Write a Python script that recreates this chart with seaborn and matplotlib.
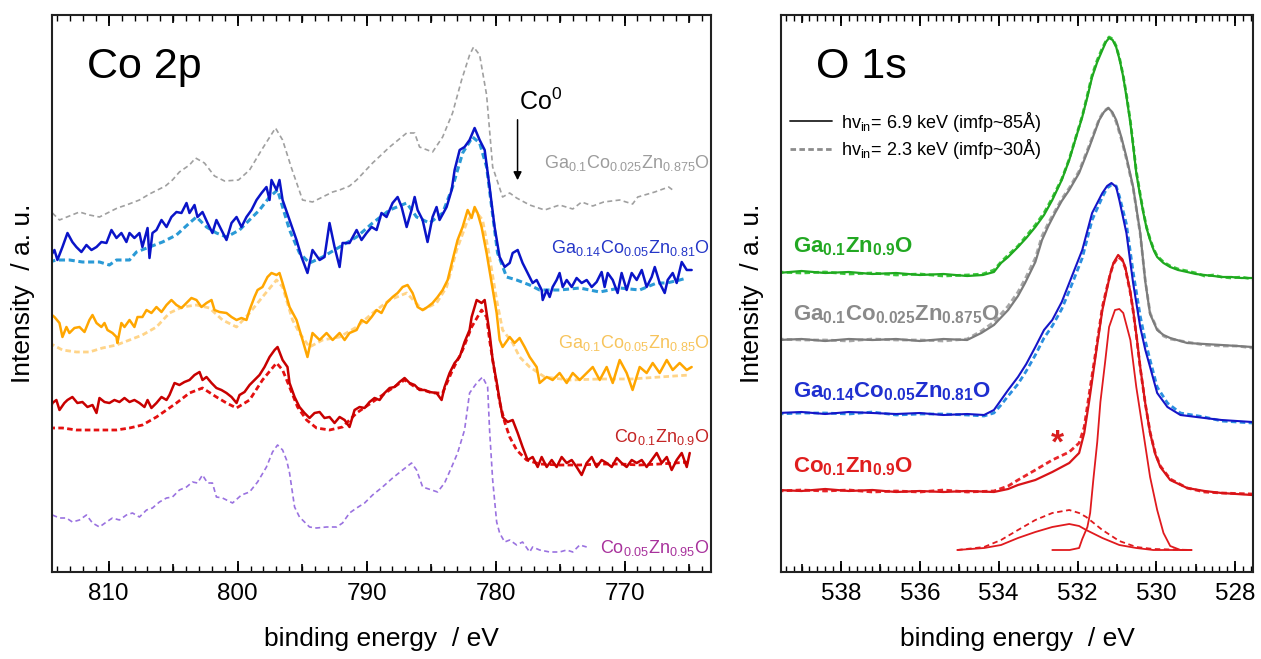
import numpy as np
import pandas as pd
import seaborn as sns
import matplotlib.pyplot as plt
from matplotlib.lines import Line2D
from matplotlib.ticker import MultipleLocator

# ---------------- Co 2p panel (binding energy in eV, intensity in a.u. with offsets) ----------------
co_gray_e = [814.37, 813.82, 813.05, 812.27, 811.50, 810.72, 809.95, 809.33, 808.63, 807.62, 806.84, 805.60, 805.06, 804.52, 803.74, 803.27, 802.58, 801.80, 801.02, 799.94, 799.08, 798.15, 797.07, 796.52, 795.83, 794.97, 794.20, 793.42, 792.64, 792.10, 791.33, 790.78, 789.54, 788.22, 786.90, 786.28, 785.90, 784.89, 784.11, 783.34, 782.64, 782.02, 781.71, 781.24, 780.70, 780.23, 779.46, 778.91, 778.37, 777.36, 776.20, 775.04, 774.02, 773.33, 772.47, 771.62, 770.38, 769.38, 768.98, 767.66, 766.58, 766.27]
co_gray_i = [359, 352, 356, 360, 357, 355, 360, 364, 367, 372, 378, 386, 392, 400, 407, 414, 409, 396, 391, 392, 402, 422, 444, 432, 404, 372, 370, 375, 380, 382, 386, 392, 409, 425, 439, 439, 425, 420, 435, 459, 492, 517, 525, 517, 477, 405, 375, 379, 374, 367, 362, 367, 363, 370, 366, 370, 372, 368, 375, 380, 385, 382]

co_blue_e = [814.60, 814.21, 813.98, 813.59, 813.20, 812.82, 812.51, 812.12, 811.73, 811.34, 810.95, 810.57, 810.18, 809.79, 809.40, 809.02, 808.63, 808.39, 808.01, 807.62, 807.39, 806.99, 806.84, 806.61, 806.30, 805.91, 805.52, 805.14, 804.75, 804.36, 803.97, 803.74, 803.35, 803.12, 802.73, 802.34, 801.96, 801.65, 801.26, 800.87, 800.48, 800.09, 799.71, 799.32, 798.93, 798.54, 798.15, 797.77, 797.53, 797.38, 796.99, 796.76, 796.52, 795.98, 795.44, 795.05, 794.59, 794.20, 793.65, 793.27, 792.88, 792.49, 792.10, 791.87, 791.33, 790.78, 790.40, 790.01, 789.62, 789.23, 788.85, 788.46, 787.99, 787.60, 787.29, 786.90, 786.52, 786.28, 786.05, 785.66, 785.28, 784.89, 784.58, 784.35, 783.80, 783.41, 783.18, 782.79, 782.41, 782.02, 781.63, 781.24, 780.85, 780.47, 780.08, 779.69, 779.30, 778.91, 778.68, 778.29, 777.91, 777.36, 777.13, 776.82, 776.43, 776.35, 776.04, 775.81, 775.58, 775.27, 775.04, 774.80, 774.49, 774.10, 773.72, 773.33, 772.94, 772.55, 772.17, 771.78, 771.55, 771.31, 770.92, 770.54, 770.23, 769.84, 769.45, 769.06, 768.67, 768.29, 767.90, 767.66, 767.28, 766.89, 766.66, 766.27, 765.96, 765.57, 765.18, 764.80]
co_blue_i = [314, 322, 312, 325, 339, 330, 325, 320, 327, 322, 325, 330, 329, 342, 334, 339, 330, 339, 334, 339, 325, 344, 314, 339, 342, 352, 345, 355, 360, 359, 369, 359, 367, 355, 360, 349, 339, 352, 342, 332, 349, 355, 345, 355, 362, 372, 379, 385, 372, 392, 382, 392, 372, 352, 332, 315, 299, 322, 312, 315, 349, 325, 305, 329, 329, 342, 332, 339, 345, 342, 359, 355, 369, 375, 365, 345, 362, 375, 362, 352, 330, 355, 365, 352, 365, 382, 402, 422, 425, 432, 444, 432, 422, 385, 345, 315, 305, 309, 319, 322, 309, 295, 289, 292, 282, 272, 282, 275, 285, 292, 299, 285, 292, 285, 294, 289, 292, 285, 290, 300, 285, 299, 292, 279, 299, 282, 299, 292, 302, 285, 295, 305, 289, 279, 292, 299, 289, 310, 302, 302]

co_cyan_e = [814.60, 814.06, 813.05, 812.04, 810.72, 809.95, 809.40, 808.39, 807.85, 806.84, 805.83, 804.75, 803.74, 803.20, 802.42, 801.65, 800.87, 799.86, 799.09, 798.31, 797.53, 796.91, 796.52, 795.98, 795.21, 794.43, 793.42, 792.10, 790.78, 789.54, 788.22, 786.90, 786.13, 785.12, 784.11, 783.34, 782.56, 781.79, 781.24, 780.70, 780.31, 779.85, 779.15, 778.37, 777.36, 776.59, 775.04, 773.48, 771.93, 770.38, 768.83, 767.51, 766.73, 765.73, 765.18]
co_cyan_i = [310, 312, 312, 310, 310, 307, 312, 312, 320, 325, 330, 337, 349, 355, 345, 339, 335, 342, 352, 362, 375, 382, 365, 342, 319, 309, 315, 325, 335, 349, 362, 369, 355, 349, 359, 385, 419, 435, 429, 405, 365, 319, 295, 292, 287, 282, 282, 284, 280, 284, 282, 289, 289, 292, 294]

co_orange_e = [814.60, 814.21, 813.82, 813.59, 813.28, 813.05, 812.66, 812.27, 811.88, 811.50, 811.26, 810.95, 810.57, 810.33, 810.10, 809.71, 809.40, 809.33, 809.02, 808.78, 808.39, 808.01, 807.77, 807.39, 807.07, 806.69, 806.30, 805.91, 805.52, 805.14, 804.75, 804.36, 803.97, 803.59, 803.20, 802.81, 802.42, 802.03, 801.80, 801.41, 800.87, 800.48, 800.09, 799.71, 799.32, 799.08, 798.70, 798.46, 798.08, 797.69, 797.38, 796.99, 796.76, 796.52, 796.21, 795.98, 795.44, 794.97, 794.59, 794.20, 793.65, 793.11, 792.64, 792.10, 791.71, 791.33, 790.78, 790.40, 790.01, 789.62, 789.23, 788.85, 788.46, 787.99, 787.60, 787.21, 786.83, 786.44, 786.05, 785.66, 785.28, 784.89, 784.50, 784.11, 783.72, 783.34, 782.95, 782.56, 782.17, 781.86, 781.63, 781.40, 781.09, 780.70, 780.31, 779.92, 779.69, 779.46, 778.91, 778.53, 778.14, 777.75, 777.36, 776.82, 776.59, 776.04, 775.58, 775.04, 774.49, 774.02, 773.48, 772.94, 772.47, 771.93, 771.39, 770.92, 770.38, 769.84, 769.38, 768.83, 768.29, 767.82, 767.28, 766.73, 766.27, 765.73, 765.18, 764.80]
co_orange_i = [259, 255, 249, 235, 245, 239, 244, 245, 240, 252, 257, 249, 245, 249, 242, 239, 235, 229, 249, 245, 252, 245, 255, 255, 262, 259, 265, 260, 267, 272, 267, 264, 269, 274, 272, 265, 269, 272, 262, 260, 259, 255, 252, 254, 252, 262, 275, 282, 285, 295, 299, 297, 299, 289, 275, 265, 252, 232, 215, 239, 232, 239, 232, 239, 232, 239, 242, 252, 249, 255, 262, 259, 269, 275, 279, 285, 287, 279, 265, 262, 265, 269, 275, 282, 292, 312, 332, 345, 362, 354, 365, 359, 345, 319, 289, 259, 232, 225, 235, 229, 234, 225, 215, 205, 189, 195, 192, 199, 189, 199, 192, 199, 205, 192, 205, 189, 212, 199, 182, 205, 199, 209, 199, 212, 202, 209, 202, 205]

co_lorange_e = [814.60, 813.59, 812.51, 811.50, 810.49, 809.40, 808.39, 807.39, 806.30, 805.29, 804.28, 803.20, 802.19, 801.18, 800.09, 799.08, 798.08, 796.99, 796.52, 795.75, 795.21, 794.43, 793.42, 792.10, 790.78, 789.54, 788.22, 786.90, 785.66, 784.58, 783.80, 783.02, 782.25, 781.63, 781.01, 780.47, 779.92, 779.46, 778.68, 778.14, 777.36, 776.20, 774.26, 771.93, 769.45, 767.28, 764.95]
co_lorange_i = [229, 222, 220, 220, 224, 227, 232, 237, 245, 259, 265, 267, 264, 252, 245, 259, 275, 292, 285, 252, 239, 225, 232, 235, 245, 259, 272, 279, 262, 269, 285, 322, 349, 362, 352, 315, 272, 242, 229, 215, 205, 195, 192, 193, 193, 195, 197]

co_red_e = [814.60, 814.37, 814.06, 813.82, 813.44, 813.20, 812.82, 812.43, 812.04, 811.65, 811.26, 810.95, 810.72, 810.33, 809.95, 809.56, 809.17, 808.78, 808.39, 808.01, 807.62, 807.23, 806.99, 806.69, 806.30, 805.91, 805.52, 805.29, 804.90, 804.52, 804.13, 803.74, 803.35, 802.96, 802.73, 802.42, 802.03, 801.65, 801.26, 800.87, 800.48, 800.09, 799.86, 799.47, 799.08, 798.70, 798.31, 797.92, 797.53, 797.14, 796.91, 796.52, 796.14, 795.98, 795.59, 795.21, 794.82, 794.43, 794.04, 793.65, 793.27, 792.88, 792.49, 792.10, 791.71, 791.33, 790.94, 790.55, 790.16, 789.78, 789.39, 789.00, 788.61, 788.22, 787.84, 787.45, 787.06, 786.67, 786.28, 785.90, 785.51, 785.12, 784.58, 784.19, 783.96, 783.57, 783.18, 782.79, 782.41, 782.02, 781.86, 781.47, 781.09, 780.85, 780.47, 780.23, 779.92, 779.69, 779.46, 779.07, 778.68, 778.29, 777.91, 777.52, 777.13, 776.74, 776.43, 776.04, 775.65, 775.27, 774.88, 774.49, 774.10, 773.72, 773.33, 772.94, 772.55, 772.17, 771.78, 771.39, 771.00, 770.61, 770.23, 769.84, 769.45, 769.06, 768.67, 768.29, 767.90, 767.51, 767.12, 766.73, 766.35, 765.96, 765.57, 765.18, 764.95]
co_red_i = [159, 169, 172, 162, 169, 172, 175, 169, 170, 165, 167, 159, 174, 170, 169, 172, 170, 174, 170, 172, 169, 165, 172, 164, 169, 175, 172, 177, 189, 187, 190, 192, 197, 200, 192, 195, 189, 184, 182, 179, 175, 169, 177, 180, 187, 192, 197, 205, 215, 222, 225, 212, 205, 189, 175, 165, 159, 154, 159, 160, 154, 155, 149, 155, 152, 145, 162, 165, 164, 170, 174, 172, 179, 184, 185, 190, 194, 189, 187, 182, 182, 180, 179, 172, 185, 199, 209, 215, 230, 242, 255, 272, 269, 272, 239, 212, 190, 172, 155, 150, 152, 139, 125, 112, 115, 105, 115, 105, 112, 105, 115, 109, 112, 105, 97, 109, 115, 105, 112, 109, 105, 114, 109, 105, 112, 109, 112, 105, 112, 119, 109, 115, 102, 112, 119, 105, 119]

co_redd_e = [814.60, 813.59, 812.51, 811.50, 810.49, 809.40, 808.39, 807.39, 806.30, 805.52, 804.75, 803.74, 802.73, 801.65, 800.87, 800.09, 799.08, 798.08, 796.99, 796.52, 795.98, 795.36, 794.66, 793.89, 792.88, 791.87, 790.78, 789.54, 788.22, 787.06, 786.13, 784.89, 784.11, 783.34, 782.56, 781.86, 781.09, 780.70, 780.47, 780.08, 779.69, 779.30, 778.91, 778.37, 777.60, 776.59, 775.04, 773.48, 771.93, 770.38, 768.83, 767.28, 764.95]
co_redd_i = [144, 144, 142, 142, 142, 142, 144, 147, 155, 162, 169, 179, 184, 175, 169, 164, 172, 192, 209, 202, 185, 165, 152, 144, 142, 145, 159, 170, 182, 192, 184, 179, 179, 202, 222, 245, 262, 255, 232, 200, 170, 150, 135, 122, 112, 108, 107, 107, 108, 108, 107, 108, 110]

co_purple_e = [814.37, 813.82, 813.28, 812.82, 812.27, 811.73, 811.26, 810.72, 810.18, 809.71, 809.17, 808.63, 808.16, 807.62, 807.07, 806.61, 806.07, 805.52, 805.06, 804.52, 803.97, 803.51, 803.12, 802.73, 802.34, 801.96, 801.65, 801.18, 800.40, 799.71, 799.08, 798.46, 797.77, 797.30, 796.91, 796.52, 796.21, 795.98, 795.59, 795.21, 794.43, 793.89, 793.11, 792.33, 791.87, 791.33, 790.78, 790.16, 789.54, 788.77, 787.99, 787.21, 786.52, 786.13, 785.66, 784.96, 784.50, 783.96, 783.41, 782.95, 782.41, 782.02, 781.47, 781.01, 780.62, 780.47, 780.23, 779.92, 779.69, 779.30, 778.91, 778.37, 777.91, 777.36, 777.13, 776.59, 775.81, 775.04, 774.49, 774.02, 773.48, 772.94]
co_purple_i = [57, 54, 54, 50, 52, 57, 49, 45, 50, 54, 52, 57, 59, 55, 62, 64, 70, 74, 75, 82, 85, 90, 89, 97, 89, 89, 75, 74, 69, 77, 80, 90, 105, 120, 127, 122, 112, 99, 65, 55, 45, 44, 45, 45, 49, 59, 64, 69, 77, 85, 94, 102, 109, 102, 85, 82, 80, 89, 105, 119, 142, 179, 189, 195, 185, 142, 92, 50, 39, 30, 32, 27, 30, 20, 25, 22, 20, 20, 22, 20, 27, 25]

co_labels = [r'Ga$_{0.1}$Co$_{0.025}$Zn$_{0.875}$O', r'Ga$_{0.14}$Co$_{0.05}$Zn$_{0.81}$O',
             r'Ga$_{0.1}$Co$_{0.05}$Zn$_{0.85}$O', r'Co$_{0.1}$Zn$_{0.9}$O', r'Co$_{0.05}$Zn$_{0.95}$O']
co_label_y = [409, 324, 229, 135, 24]
co_label_colors = ['#9c9c9c', '#2436c8', '#f7c45c', '#c42424', '#a8329c']

# ---------------- O 1s panel ----------------
o_green_e = [539.60, 539.00, 538.40, 537.80, 537.20, 536.60, 536.00, 535.40, 534.80, 534.40, 534.12, 533.94, 533.76, 533.51, 533.30, 533.07, 532.85, 532.64, 532.40, 532.21, 532.05, 531.88, 531.75, 531.63, 531.50, 531.37, 531.28, 531.20, 531.11, 531.02, 530.93, 530.84, 530.75, 530.66, 530.58, 530.51, 530.42, 530.33, 530.25, 530.16, 530.07, 529.98, 529.82, 529.65, 529.45, 529.22, 529.00, 528.78, 528.55, 528.35, 528.10, 527.85, 527.57]
o_green_i = [299, 301, 299, 300, 298, 299, 297, 298, 296, 297, 300, 309, 315, 325, 334, 345, 357, 372, 392, 412, 433, 455, 475, 495, 510, 522, 530, 534, 532, 525, 512, 495, 473, 449, 423, 399, 378, 359, 344, 332, 322, 315, 309, 305, 302, 300, 298, 297, 296, 295, 295, 294, 294]
o_green_d = [300, 299, 300, 298, 299, 297, 298, 296, 297, 298, 302, 310, 317, 326, 336, 347, 359, 374, 393, 413, 434, 456, 477, 497, 512, 524, 531, 535, 533, 526, 513, 496, 475, 451, 425, 401, 380, 360, 345, 333, 323, 316, 310, 306, 303, 301, 299, 296, 297, 295, 294, 295, 293]

o_gray_e = [539.60, 539.00, 538.40, 537.80, 537.20, 536.60, 536.00, 535.40, 534.80, 534.44, 534.12, 533.76, 533.51, 533.33, 533.07, 532.90, 532.74, 532.57, 532.40, 532.21, 531.96, 531.70, 531.45, 531.33, 531.22, 531.12, 531.02, 530.89, 530.76, 530.59, 530.50, 530.41, 530.28, 530.16, 529.98, 529.82, 529.65, 529.22, 528.78, 528.35, 527.95, 527.57]
o_gray_i = [232, 233, 231, 233, 232, 233, 231, 233, 232, 239, 247, 262, 276, 289, 310, 332, 346, 359, 371, 382, 399, 425, 452, 460, 464, 460, 452, 435, 415, 385, 362, 339, 290, 258, 242, 237, 234, 229, 228, 227, 226, 225]
o_gray_d = [233, 232, 232, 231, 233, 232, 232, 231, 233, 241, 250, 266, 280, 293, 314, 336, 349, 361, 373, 384, 401, 427, 453, 461, 464, 459, 450, 433, 413, 384, 361, 338, 291, 259, 243, 236, 233, 230, 227, 226, 226, 224]

o_blue_e = [539.60, 539.00, 538.40, 537.80, 537.20, 536.60, 536.00, 535.40, 534.80, 534.37, 534.12, 533.94, 533.76, 533.51, 533.30, 533.07, 532.85, 532.64, 532.40, 532.21, 531.88, 531.63, 531.37, 531.25, 531.14, 531.02, 530.94, 530.76, 530.59, 530.41, 530.28, 530.16, 529.98, 529.72, 529.39, 528.78, 528.35, 527.57]
o_blue_i = [159, 160, 158, 160, 159, 158, 159, 157, 158, 157, 162, 172, 182, 195, 208, 225, 242, 252, 270, 289, 322, 359, 379, 386, 389, 385, 372, 339, 289, 245, 222, 205, 179, 165, 157, 154, 152, 150]
o_blue_d = [158, 159, 159, 158, 160, 157, 158, 158, 157, 156, 159, 167, 176, 188, 201, 217, 234, 246, 263, 281, 314, 352, 375, 384, 387, 386, 376, 348, 300, 256, 231, 212, 185, 169, 159, 155, 151, 149]

o_red_e = [539.60, 539.00, 538.40, 537.80, 537.20, 536.60, 536.00, 535.40, 534.80, 534.12, 533.76, 533.51, 533.07, 532.64, 532.21, 531.96, 531.83, 531.70, 531.52, 531.37, 531.27, 531.17, 531.09, 530.97, 530.87, 530.79, 530.66, 530.59, 530.50, 530.41, 530.28, 530.16, 530.03, 529.90, 529.65, 529.22, 528.78, 528.35, 527.57]
o_red_i = [82, 81, 83, 81, 82, 80, 81, 80, 81, 80, 83, 87, 92, 100, 109, 119, 139, 172, 222, 262, 280, 298, 309, 317, 313, 305, 280, 262, 235, 205, 168, 139, 118, 105, 92, 84, 81, 79, 77]
o_red_d = [81, 82, 81, 82, 80, 81, 80, 82, 80, 81, 86, 92, 102, 112, 120, 129, 145, 179, 225, 265, 282, 298, 308, 315, 312, 304, 279, 261, 234, 204, 168, 140, 119, 106, 93, 84, 80, 79, 78]

# fit components of the Co0.1Zn0.9O O 1s line
o_main_e = [532.64, 532.20, 531.96, 531.88, 531.75, 531.68, 531.60, 531.50, 531.42, 531.30, 531.20, 531.05, 530.94, 530.84, 530.66, 530.51, 530.33, 530.16, 529.98, 529.82, 529.65, 529.39, 529.11]
o_main_i = [22, 22, 24, 33, 45, 59, 92, 130, 170, 210, 245, 262, 263, 259, 232, 185, 139, 95, 62, 39, 26, 22, 22]
o_small_e = [535.05, 534.37, 533.94, 533.51, 533.07, 532.64, 532.21, 531.96, 531.78, 531.37, 530.94, 530.51, 530.08, 529.11]
o_small_i = [22, 24, 27, 34, 40, 45, 48, 46, 42, 34, 27, 24, 22, 22]
o_small_d = [22, 25, 32, 42, 52, 59, 62, 59, 55, 42, 31, 25, 23, 22]

o_labels = [r'$\mathbf{Ga_{0.1}Zn_{0.9}O}$', r'$\mathbf{Ga_{0.1}Co_{0.025}Zn_{0.875}O}$',
            r'$\mathbf{Ga_{0.14}Co_{0.05}Zn_{0.81}O}$', r'$\mathbf{Co_{0.1}Zn_{0.9}O}$']
o_label_y = [325, 257, 180, 105]
o_label_colors = ['#22a822', '#8a8a8a', '#1f2fd0', '#e01e1e']


def trace(ax, e, i, color, lw, ls='-'):
    df = pd.DataFrame({'be': e, 'inten': i})
    sns.lineplot(data=df, x='be', y='inten', ax=ax, color=color, linewidth=lw,
                 linestyle=ls, sort=False, estimator=None)


def mid_ticks(ax, step):
    # intermediate-length ticks (5 eV on Co 2p, 1 eV on O 1s), bottom and top
    for side in ('bottom', 'top'):
        sec = ax.secondary_xaxis(side)
        sec.xaxis.set_major_locator(MultipleLocator(step))
        sec.tick_params(direction='in', length=6, width=1.2, labelbottom=False, labeltop=False)
        sec.spines[side].set_visible(False)


sns.set_style('white')
plt.rcParams['font.family'] = ['Liberation Sans', 'DejaVu Sans']
plt.rcParams['mathtext.fontset'] = 'custom'
plt.rcParams['mathtext.rm'] = 'Liberation Sans'
plt.rcParams['mathtext.it'] = 'Liberation Sans:italic'
plt.rcParams['mathtext.bf'] = 'Liberation Sans:bold'
plt.rcParams['text.color'] = 'black'
plt.rcParams['axes.labelcolor'] = 'black'
plt.rcParams['xtick.color'] = 'black'

fig = plt.figure(figsize=(12.61, 6.59), dpi=100)
ax1 = fig.add_axes([52 / 1261, 87 / 659, 659 / 1261, 557 / 659])
ax2 = fig.add_axes([781 / 1261, 87 / 659, 472 / 1261, 557 / 659])

# Co 2p
trace(ax1, co_gray_e, co_gray_i, '#a0a0a0', 1.2, (0, (3, 2)))
trace(ax1, co_cyan_e, co_cyan_i, '#2a9ad6', 2.2, (0, (2, 1.2)))
trace(ax1, co_blue_e, co_blue_i, '#0a14c8', 1.8)
trace(ax1, co_lorange_e, co_lorange_i, '#ffd488', 2.0, (0, (2, 1.2)))
trace(ax1, co_orange_e, co_orange_i, '#ffa600', 1.8)
trace(ax1, co_redd_e, co_redd_i, '#e41010', 2.0, (0, (2, 1.2)))
trace(ax1, co_red_e, co_red_i, '#c80000', 1.8)
trace(ax1, co_purple_e, co_purple_i, '#9a72e0', 1.2, (0, (3, 2)))

for lab, y, c in zip(co_labels, co_label_y, co_label_colors):
    ax1.text(0.998, y, lab, color=c, fontsize=13, ha='right', va='center',
             transform=ax1.get_yaxis_transform())

ax1.text(811.7, 494, 'Co 2p', fontsize=31, ha='left', va='baseline')
ax1.annotate('', xy=(778.3, 389), xytext=(778.3, 455),
             arrowprops=dict(arrowstyle='-|>', color='black', lw=1.1, mutation_scale=12))
ax1.text(778.2, 470, 'Co$^{0}$', fontsize=18, ha='left', va='center')

ax1.set_xlim(814.4, 763.3)
ax1.xaxis.set_major_locator(MultipleLocator(10))
ax1.xaxis.set_minor_locator(MultipleLocator(1))

# O 1s
trace(ax2, o_green_e, o_green_d, '#3cc83c', 2.0, (0, (2, 1.2)))
trace(ax2, o_green_e, o_green_i, '#1fa81f', 1.6)
trace(ax2, o_gray_e, o_gray_d, '#a8a8a8', 2.0, (0, (2, 1.2)))
trace(ax2, o_gray_e, o_gray_i, '#7c7c7c', 1.6)
trace(ax2, o_blue_e, o_blue_d, '#2b8fe0', 2.0, (0, (2, 1.2)))
trace(ax2, o_blue_e, o_blue_i, '#1515c8', 1.5)
trace(ax2, o_red_e, o_red_d, '#e8262a', 2.0, (0, (2, 1.2)))
trace(ax2, o_red_e, o_red_i, '#d81418', 1.6)
trace(ax2, o_main_e, o_main_i, '#e01a1e', 1.3)
trace(ax2, o_small_e, o_small_i, '#e01a1e', 1.3)
trace(ax2, o_small_e, o_small_d, '#e01a1e', 1.3, (0, (3, 2)))

for lab, y, c in zip(o_labels, o_label_y, o_label_colors):
    ax2.text(0.025, y, lab, color=c, fontsize=16, ha='left', va='center',
             transform=ax2.get_yaxis_transform())

ax2.text(538.63, 494, 'O 1s', fontsize=31, ha='left', va='baseline')
ax2.text(532.5, 128, '*', color='#d81e1e', fontsize=24, fontweight='bold', ha='center', va='center')

handles = [Line2D([], [], color='#222222', lw=1.3),
           Line2D([], [], color='#8c8c8c', lw=2.0, ls=(0, (2, 1.2)))]
ax2.legend(handles, [r'hv$_{\rm in}$= 6.9 keV (imfp~85Å)', r'hv$_{\rm in}$= 2.3 keV (imfp~30Å)'],
           loc='upper left', bbox_to_anchor=(0.02, 0.83), frameon=False, fontsize=13,
           handlelength=2.3, handletextpad=0.5, labelspacing=0.2, borderpad=0, borderaxespad=0)

ax2.set_xlim(539.52, 527.55)
ax2.xaxis.set_major_locator(MultipleLocator(2))
ax2.xaxis.set_minor_locator(MultipleLocator(0.2))

for ax in (ax1, ax2):
    ax.set_ylim(0, 557)
    ax.set_yticks([])
    ax.tick_params(axis='x', which='both', direction='in', top=True, bottom=True, labelsize=17.5, pad=8)
    ax.tick_params(axis='x', which='major', length=8, width=1.3)
    ax.tick_params(axis='x', which='minor', length=4, width=1.0)
    ax.set_xlabel('binding energy  / eV', fontsize=19, labelpad=16)
    ax.set_ylabel('Intensity  / a. u.', fontsize=19, labelpad=12)
    for s in ax.spines.values():
        s.set_linewidth(1.5)
        s.set_color('#222222')

mid_ticks(ax1, 5)
mid_ticks(ax2, 1)

fig.savefig('out.png', dpi=100)
